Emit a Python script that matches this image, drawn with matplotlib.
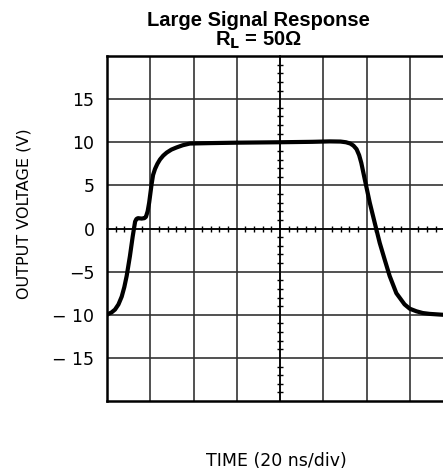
import numpy as np
import matplotlib.pyplot as plt
from matplotlib.ticker import MultipleLocator

# time in ns, output voltage in V
t_ns = [0, 0.6, 2.0, 3.7, 5.3, 6.8, 8.0, 9.1, 10.6, 11.9, 13.0, 13.6, 14.3, 16.0, 17.3,
        18.0, 18.8, 19.5, 20.6, 21.3, 22.2, 23.3, 24.5, 26.0, 27.6, 29.8, 32.2, 35.0,
        38.3, 47.6, 60, 80, 95, 103, 108, 110.5, 112.5, 114.0, 115.4, 116.6, 117.6,
        119.2, 121.5, 123.8, 126.1, 128.4, 130.7, 133.8, 137.6, 140.0, 143.1, 146.0,
        149.2, 155.2, 160]
v_out = [-10.0, -9.9, -9.75, -9.4, -8.8, -7.9, -6.8, -5.5, -3.2, -0.9, 0.8, 1.1, 1.2,
         1.15, 1.2, 1.35, 2.0, 3.0, 5.1, 6.2, 6.9, 7.5, 8.0, 8.45, 8.8, 9.15, 9.4, 9.65,
         9.85, 9.9, 9.95, 10.0, 10.05, 10.1, 10.08, 10.0, 9.85, 9.6, 9.2, 8.5, 7.6, 5.7,
         3.0, 0.66, -1.66, -3.6, -5.5, -7.5, -8.8, -9.3, -9.6, -9.8, -9.9, -10.0, -10.0]

y_ticks = [-15, -10, -5, 0, 5, 10, 15]
y_labels = ['\u2212 15', '\u2212 10', '\u22125', '0', '5', '10', '15']

plt.rcParams['font.family'] = ['DejaVu Sans']

fig = plt.figure(figsize=(4.43, 4.75), dpi=100)
pos = [107 / 443, 74 / 475, 346 / 443, 345 / 475]
ax = fig.add_axes(pos)

ax.set_xlim(0, 160)
ax.set_ylim(-20, 20)
ax.xaxis.set_major_locator(MultipleLocator(20))
ax.set_yticks(y_ticks)
ax.set_yticklabels(y_labels, fontsize=12.5)
ax.tick_params(axis='x', length=0, labelbottom=False)
ax.tick_params(axis='y', length=0, pad=9)
ax.grid(True, color='#333333', linewidth=1.2)
for s in ax.spines.values():
    s.set_linewidth(1.8)
    s.set_color('black')

ax.plot(t_ns, v_out, color='black', linewidth=3.0, solid_capstyle='round',
        solid_joinstyle='round', zorder=5)

# center graticule with small ticks
axc = fig.add_axes(pos, frameon=True)
axc.patch.set_visible(False)
axc.set_xlim(0, 160)
axc.set_ylim(-20, 20)
for name in ['top', 'right']:
    axc.spines[name].set_visible(False)
axc.spines['left'].set_position(('data', 80))
axc.spines['bottom'].set_position(('data', 0))
axc.spines['left'].set_linewidth(1.2)
axc.spines['bottom'].set_linewidth(1.2)
axc.xaxis.set_major_locator(MultipleLocator(20))
axc.xaxis.set_minor_locator(MultipleLocator(4))
axc.yaxis.set_major_locator(MultipleLocator(5))
axc.yaxis.set_minor_locator(MultipleLocator(1))
axc.tick_params(which='both', direction='inout', labelleft=False, labelbottom=False)
axc.tick_params(which='major', length=0)
axc.tick_params(which='minor', length=5, width=1.0)

fig.text(258 / 443, 1 - 31 / 475, 'Large Signal Response\n' + r'R$_\mathbf{L}$ = 50Ω',
         ha='center', va='center', multialignment='center', linespacing=0.95,
         fontsize=14.5, fontweight='bold', family=['Liberation Sans', 'DejaVu Sans'])
fig.text(24 / 443, 1 - 214 / 475, 'OUTPUT VOLTAGE (V)', rotation=90, ha='center',
         va='center', fontsize=11.5)
fig.text(276 / 443, 1 - 461 / 475, 'TIME (20 ns/div)', ha='center', va='center',
         fontsize=12.5)

fig.savefig('out.png', dpi=100)
